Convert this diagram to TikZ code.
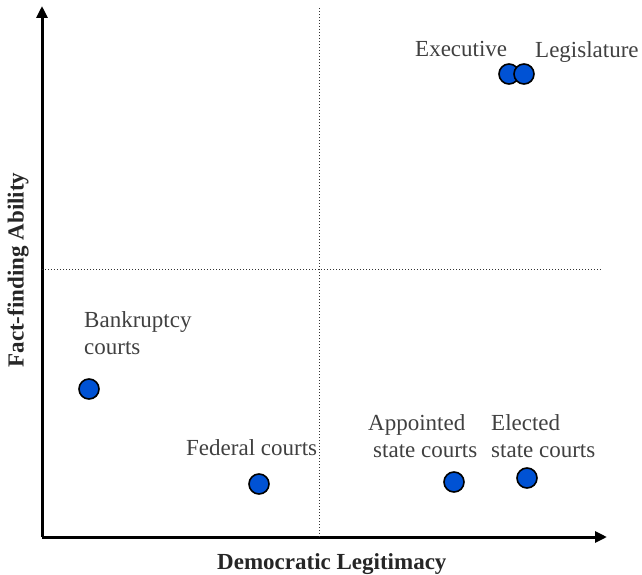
\documentclass[tikz,border=0pt]{standalone}
\usepackage{fontspec}
\setmainfont{Liberation Serif}
\usetikzlibrary{arrows.meta}
\definecolor{dotblue}{RGB}{0,82,212}
\begin{document}
\begin{tikzpicture}[x=1pt,y=-1pt,
  axis/.style={line width=3pt,-{Triangle[length=12pt,width=11pt]}},
  guide/.style={line width=1pt,dash pattern=on 1pt off 2pt,black!80},
  pt/.style={circle,draw=black,line width=1.6pt,fill=dotblue,minimum size=20pt,inner sep=0pt},
  lbl/.style={font=\fontsize{23}{27}\selectfont,text=black!75,inner sep=0pt,anchor=base west},
  axlbl/.style={font=\fontsize{23}{27}\selectfont\bfseries,text=black!85,inner sep=0pt}]
\useasboundingbox (0,0) rectangle (642,575);
% axes
\coordinate (o) at (42,537);
\coordinate (ytop) at (42,6);
\coordinate (xend) at (607,537);
\draw[axis] (o) -- (ytop);
\draw[axis] (o) -- (xend);
% quadrant guides
\coordinate (vtop) at (319,8);
\coordinate (vbot) at (319,537);
\coordinate (hl) at (42,269);
\coordinate (hr) at (602,269);
\draw[guide] (vtop) -- (vbot);
\draw[guide] (hl) -- (hr);
% axis titles
\node[axlbl,anchor=base west] (xlab) at (217,569) {Democratic Legitimacy};
\node[axlbl,rotate=90] (ylab) at (18,270) {Fact-finding Ability};
% institutions
\node[pt] (bank) at (89,389) {};
\node[pt] (fed) at (259,484) {};
\node[pt] (appt) at (454,482) {};
\node[pt] (elec) at (527,478) {};
\node[pt] (exec) at (509,74) {};
\node[pt] (legis) at (524,74) {};
% labels, one node per printed line
\node[lbl] (execl) at (415,57) {Executive};
\node[lbl] (legisl) at (535,58) {Legislature};
\node[lbl] (bankl1) at (84,327) {Bankruptcy};
\node[lbl] (bankl2) at (84,354) {courts};
\node[lbl] (fedl) at (186,455) {Federal courts};
\node[lbl] (apptl1) at (368,430) {Appointed};
\node[lbl] (apptl2) at (373,457) {state courts};
\node[lbl] (elecl1) at (491,430) {Elected};
\node[lbl] (elecl2) at (491,457) {state courts};
\end{tikzpicture}
\end{document}
